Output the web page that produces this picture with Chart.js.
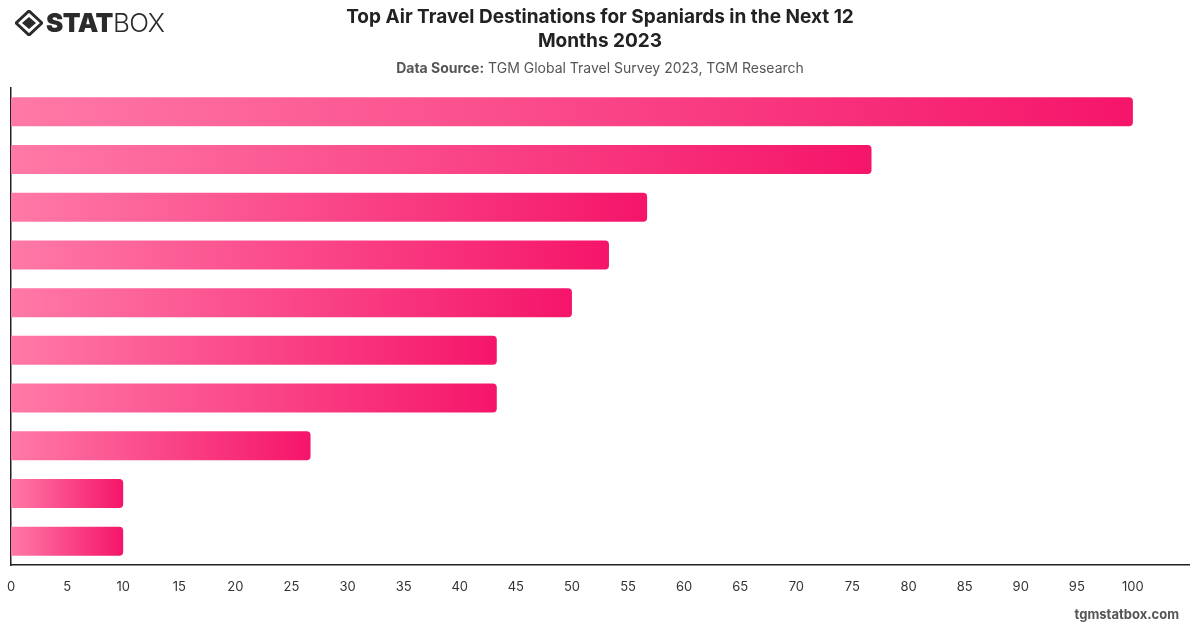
<!DOCTYPE html>
<html>
<head>
<meta charset="utf-8">
<script src="https://cdn.jsdelivr.net/npm/chart.js@4"></script>
<style>
  html, body { margin: 0; padding: 0; background: #fff; }
  body { width: 1200px; height: 628px; position: relative; overflow: hidden; font-family: Inter, "Noto Sans", sans-serif; }
  #chart { position: absolute; left: 0; top: 0; }
  .logo { position: absolute; left: 15px; top: 7px; display: flex; align-items: center; color: #2b2b2b; font-size: 26px; letter-spacing: -0.5px; }
  .logo svg { margin-right: 3px; }
  .logo .stat { font-weight: 900; }
  .logo .box { font-weight: 300; }
  .title { position: absolute; left: 300px; width: 600px; top: 5px; text-align: center; font-size: 19px; font-weight: 700; line-height: 24px; color: #222; }
  .source { position: absolute; left: 300px; width: 600px; top: 59px; text-align: center; font-size: 14px; color: #555; }
  .source b { font-weight: 700; }
  .footer { position: absolute; right: 21px; top: 606px; font-size: 13px; font-weight: 700; color: #555; }
</style>
</head>
<body>
<canvas id="chart" width="1200" height="628"></canvas>
<div class="logo">
  <svg width="28" height="26" viewBox="0 0 28 26">
    <polygon points="14,1 27,13 14,25 1,13" fill="none" stroke="#2b2b2b" stroke-width="3"/>
    <polygon points="14,7 21,13 14,19 7,13" fill="#2b2b2b"/>
  </svg>
  <span class="stat">STAT</span><span class="box">BOX</span>
</div>
<div class="title">Top Air Travel Destinations for Spaniards in the Next 12<br>Months 2023</div>
<div class="source"><b>Data Source:</b> TGM Global Travel Survey 2023, TGM Research</div>
<div class="footer">tgmstatbox.com</div>
<script>
// category names are not printed on the chart
const destinations = ['Destination 1', 'Destination 2', 'Destination 3', 'Destination 4', 'Destination 5',
  'Destination 6', 'Destination 7', 'Destination 8', 'Destination 9', 'Destination 10'];
const shares = [100, 76.7, 56.7, 53.3, 50, 43.3, 43.3, 26.7, 10, 10];
const xTicks = [0, 5, 10, 15, 20, 25, 30, 35, 40, 45, 50, 55, 60, 65, 70, 75, 80, 85, 90, 95, 100];

// each bar gets its own light-to-deep gradient, from the axis to its end
function barGradient(context) {
  const chart = context.chart;
  const area = chart.chartArea;
  const xScale = chart.scales.x;
  if (!area || !xScale || context.raw == null) return '#fb4f8a';
  const endX = xScale.getPixelForValue(context.raw);
  const g = chart.ctx.createLinearGradient(area.left, 0, Math.max(endX, area.left + 1), 0);
  g.addColorStop(0, '#ff79a7');
  g.addColorStop(1, '#f5156a');
  return g;
}

const ctx = document.getElementById('chart').getContext('2d');
new Chart(ctx, {
  type: 'bar',
  data: {
    labels: destinations,
    datasets: [
      {
        data: shares,
        backgroundColor: barGradient,
        borderRadius: 4,
        borderSkipped: 'start',
        barPercentage: 0.8,
        categoryPercentage: 0.76,
      },
    ],
  },
  options: {
    indexAxis: 'y',
    responsive: false,
    animation: false,
    layout: { padding: { top: 88, left: 11, right: 11, bottom: 18 } },
    plugins: { legend: { display: false }, tooltip: { enabled: false } },
    scales: {
      x: {
        min: 0,
        max: 105,
        afterBuildTicks: (axis) => {
          axis.ticks = xTicks.map((v) => ({ value: v }));
        },
        afterFit: (axis) => {
          axis.height = 45;
          axis.paddingLeft = 0;
          axis.paddingRight = 0;
        },
        grid: { display: false, drawTicks: false },
        border: { display: true, color: '#222', width: 1.5 },
        ticks: { color: '#333', font: { family: 'Inter', size: 13 }, padding: 14 },
      },
      y: {
        afterFit: (axis) => {
          axis.width = 0;
        },
        grid: { display: false, drawTicks: false },
        border: { display: true, color: '#222', width: 1.5 },
        ticks: { display: false },
      },
    },
  },
});
</script>
</body>
</html>
